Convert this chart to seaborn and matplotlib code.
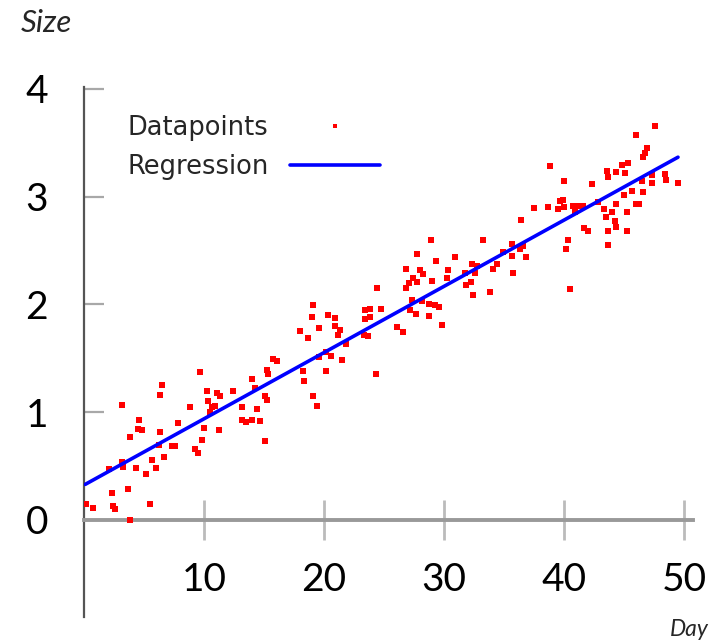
import numpy as np
import pandas as pd
import matplotlib
matplotlib.use("Agg")
import matplotlib.pyplot as plt
from matplotlib import font_manager as fm
import seaborn as sns

# ---------------- data ----------------
day_a = [9.67, 6.47, 6.33, 3.14, 10.22, 11.06, 11.33, 12.39, 14.03, 15.22, 15.36, 16.06, 15.71, 15.08, 15.22,
         14.25, 10.31, 8.83, 10.64, 10.92, 10.50, 13.19, 14.39, 13.14, 13.48, 14.03, 14.69, 4.61, 4.53, 4.81,
         6.33, 7.81, 3.83, 10.03, 11.25, 9.81, 6.25, 7.31, 7.58, 9.25, 9.53, 6.69, 5.64, 3.14, 3.28,
         4.31, 6.03, 5.14, 2.11, 15.08, 3.69, 2.31, 0.15, 0.78, 2.44, 2.58, 5.50, 3.83]
size_a = [1.37, 1.25, 1.16, 1.07, 1.20, 1.18, 1.15, 1.20, 1.31, 1.39, 1.35, 1.47, 1.49, 1.15, 1.11,
          1.22, 1.10, 1.05, 1.05, 1.06, 1.00, 1.05, 1.03, 0.93, 0.91, 0.93, 0.92, 0.93, 0.84, 0.83,
          0.82, 0.90, 0.77, 0.85, 0.83, 0.74, 0.70, 0.69, 0.69, 0.66, 0.62, 0.58, 0.56, 0.54, 0.49,
          0.48, 0.48, 0.43, 0.47, 0.73, 0.29, 0.25, 0.15, 0.11, 0.13, 0.10, 0.15, 0.00]

day_b = [28.92, 33.22, 27.78, 29.31, 30.92, 26.81, 28.00, 28.22, 30.31, 32.36, 32.78, 34.11, 34.39, 31.75, 32.58,
         27.44, 27.72, 27.08, 26.83, 28.98, 30.22, 31.81, 32.22, 32.44, 33.83, 24.39, 27.31, 27.17, 27.64, 28.14,
         28.75, 29.25, 29.61, 28.78, 29.86, 23.42, 23.83, 24.75, 23.42, 23.83, 23.36, 23.69, 19.11, 19.03, 20.36,
         20.92, 19.61, 20.92, 21.33, 21.19, 18.00, 18.69, 26.06, 26.61, 21.83, 20.14, 20.58, 19.61, 21.47, 18.22,
         18.33, 20.14, 24.33, 19.11, 19.39]
size_b = [2.60, 2.60, 2.47, 2.40, 2.44, 2.33, 2.32, 2.28, 2.32, 2.37, 2.36, 2.33, 2.37, 2.29, 2.29,
          2.24, 2.21, 2.20, 2.15, 2.22, 2.24, 2.18, 2.21, 2.09, 2.11, 2.15, 2.04, 1.95, 1.91, 2.03,
          2.00, 1.99, 1.98, 1.89, 1.81, 1.95, 1.96, 1.96, 1.86, 1.88, 1.72, 1.71, 1.99, 1.88, 1.90,
          1.87, 1.78, 1.80, 1.76, 1.72, 1.75, 1.69, 1.79, 1.74, 1.63, 1.56, 1.52, 1.51, 1.48, 1.38,
          1.29, 1.38, 1.35, 1.15, 1.06]

day_c = [47.58, 46.00, 46.94, 46.75, 46.61, 38.83, 45.31, 44.81, 43.61, 43.64, 44.31, 45.08, 40.03, 42.31, 47.31,
         48.42, 48.50, 49.53, 47.31, 46.53, 45.64, 46.56, 45.03, 46.00, 46.28, 44.33, 45.22, 43.33, 43.97, 43.50,
         44.25, 44.31, 43.69, 45.22, 43.64, 42.86, 39.89, 39.67, 39.53, 40.00, 38.69, 37.50, 40.78, 41.19, 41.61,
         40.92, 36.39, 41.67, 42.03, 40.36, 40.14, 35.64, 36.56, 36.33, 34.89, 35.64, 36.83, 35.78, 40.50]
size_c = [3.65, 3.57, 3.45, 3.40, 3.37, 3.28, 3.31, 3.29, 3.24, 3.18, 3.23, 3.22, 3.14, 3.12, 3.20,
          3.21, 3.15, 3.13, 3.13, 3.14, 3.05, 3.04, 3.01, 2.93, 2.93, 2.93, 2.86, 2.88, 2.86, 2.81,
          2.77, 2.72, 2.68, 2.68, 2.55, 2.95, 2.97, 2.96, 2.88, 2.90, 2.90, 2.89, 2.91, 2.91, 2.91,
          2.86, 2.78, 2.71, 2.68, 2.60, 2.51, 2.56, 2.54, 2.51, 2.49, 2.45, 2.44, 2.29, 2.14]

reg_day = [0.1, 49.5]
reg_size = [0.33, 3.365]

x_ticks = [10, 20, 30, 40, 50]
y_ticks = [0, 1, 2, 3, 4]
legend_labels = ["Datapoints", "Regression"]
x_label = "Day"
y_label = "Size"

# ---------------- styling ----------------
sns.set_theme(style="white")
names = {f.name for f in fm.fontManager.ttflist}
tick_font = "Liberation Sans Narrow" if "Liberation Sans Narrow" in names else "Lato"
plt.rcParams["font.family"] = [tick_font, "DejaVu Sans"]

W, H = 721, 642
fig = plt.figure(figsize=(W / 100, H / 100), dpi=100, facecolor="white")
ax = fig.add_axes([84 / W, 1 - 617 / H, (693 - 84) / W, (617 - 87) / H])
ax.set_facecolor("white")

df = pd.DataFrame({"Day": day_a + day_b + day_c, "Size": size_a + size_b + size_c})
sns.scatterplot(data=df, x="Day", y="Size", ax=ax, color="#ff0000", marker="s", s=15,
                linewidth=0, label=legend_labels[0], zorder=3)
sns.lineplot(x=reg_day, y=reg_size, ax=ax, color="#0000ff", lw=2.6,
             label=legend_labels[1], zorder=4)

ax.set_xlim(0, 50.75)
ax.set_ylim(-0.9, 4.016)
ax.set_xticks(x_ticks)
ax.set_yticks(y_ticks)
ax.set_xlabel("")
ax.set_ylabel("")

for s in ("top", "right"):
    ax.spines[s].set_visible(False)
ax.spines["bottom"].set_position(("data", 0))
ax.spines["bottom"].set_color("#999999")
ax.spines["bottom"].set_linewidth(2.8)
ax.spines["left"].set_color("#555555")
ax.spines["left"].set_linewidth(1.6)

ax.tick_params(axis="x", direction="inout", length=29, width=2.0, color="#bbbbbb",
               pad=16, labelsize=28, labelcolor="black", bottom=True)
ax.tick_params(axis="y", direction="in", length=14.5, width=1.6, color="#a8a8a8",
               pad=26, labelsize=28, labelcolor="black", left=True)

leg = ax.legend(loc="center left", bbox_to_anchor=(127 / W, 1 - 147.5 / H),
                bbox_transform=fig.transFigure, frameon=False, markerfirst=False,
                prop={"family": "DejaVu Sans", "size": 18.5}, handlelength=3.5,
                handletextpad=0.85, labelspacing=0.5, borderpad=0, borderaxespad=0,
                markerscale=0.85, scatteryoffsets=[0.5])

fig.text(21 / W, 1 - 32 / H, y_label, style="italic", fontsize=22.5, family="Lato",
         ha="left", va="baseline")
fig.text(670 / W, 1 - 636.5 / H, x_label, style="italic", fontsize=16.5, family="Lato",
         ha="left", va="baseline")

fig.savefig("out.png", dpi=100, facecolor="white")
